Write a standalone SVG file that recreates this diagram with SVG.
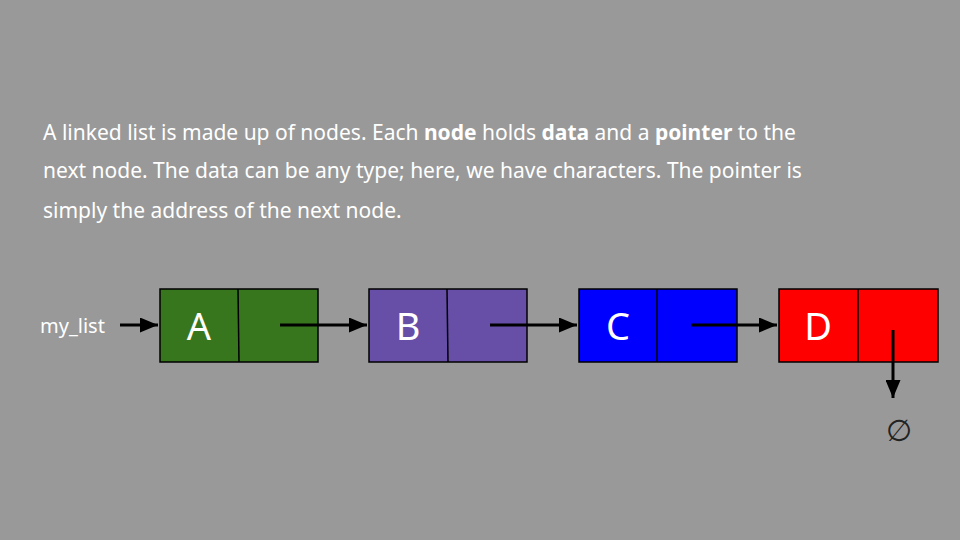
<svg xmlns="http://www.w3.org/2000/svg" width="960" height="540" viewBox="0 0 960 540">
<style>
.t{font-family:"Source Sans Pro","Noto Sans","Open Sans",sans-serif;fill:#fff}
.box{stroke:#000;stroke-width:1.5}
.lbl{font-family:"Source Sans Pro","Noto Sans",sans-serif;font-size:38px;fill:#fff;text-anchor:middle}
.c{stroke:#000;stroke-width:3;fill:none;marker-end:url(#ah)}
</style>
<defs><marker id="ah" markerWidth="6" markerHeight="5" refX="6" refY="2.5" orient="auto" markerUnits="strokeWidth"><path d="M0,0L6,2.5L0,5Z" fill="#000"/></marker></defs>
<rect width="960" height="540" fill="#999"/>
<g class="t" font-size="21">
<text x="43" y="140">A linked list is made up of nodes. Each <tspan font-weight="bold">node</tspan> holds <tspan font-weight="bold">data</tspan> and a <tspan font-weight="bold">pointer</tspan> to the</text>
<text x="43" y="178">next node. The data can be any type; here, we have characters. The pointer is</text>
<text x="43" y="218">simply the address of the next node.</text>
</g>
<g id="head"><text class="t" x="40" y="333" font-size="20">my_list</text></g>
<g id="nodeA"><rect class="box" x="160" y="289" width="158" height="73" fill="#38761d"/><line class="box" x1="238" y1="289" x2="239" y2="362"/><text class="lbl" x="199" y="340">A</text></g>
<g id="nodeB"><rect class="box" x="369" y="289" width="158" height="73" fill="#674ea7"/><line class="box" x1="447" y1="289" x2="448" y2="362"/><text class="lbl" x="408" y="340">B</text></g>
<g id="nodeC"><rect class="box" x="579" y="289" width="158" height="73" fill="#0000ff"/><line class="box" x1="657" y1="289" x2="657" y2="362"/><text class="lbl" x="618" y="340">C</text></g>
<g id="nodeD"><rect class="box" x="779" y="289" width="159" height="73" fill="#ff0000"/><line class="box" x1="858" y1="289" x2="858" y2="362"/><text class="lbl" x="818" y="340">D</text></g>
<g id="null"><text x="899" y="441" font-family="DejaVu Sans,sans-serif" font-size="30" text-anchor="middle" fill="#222">∅</text></g>
<g id="connectors">
<line class="c" x1="120" y1="325" x2="158" y2="325"/>
<line class="c" x1="280" y1="325" x2="367" y2="325"/>
<line class="c" x1="490" y1="325" x2="577" y2="325"/>
<line class="c" x1="691" y1="325" x2="777" y2="325"/>
<line class="c" x1="893" y1="330" x2="893" y2="398"/>
</g>
</svg>
